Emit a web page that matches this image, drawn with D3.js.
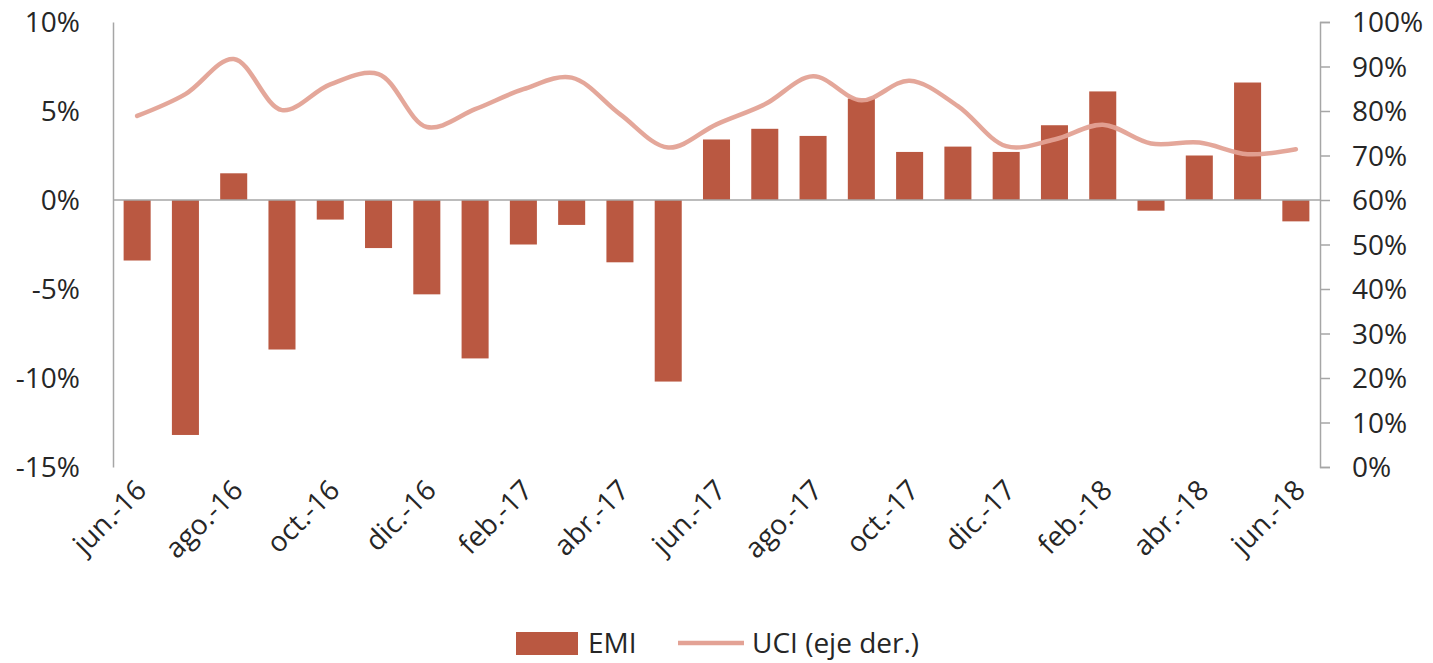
<!DOCTYPE html>
<html>
<head>
<meta charset="utf-8">
<script src="https://cdn.jsdelivr.net/npm/d3@7"></script>
<style>
  body { margin: 0; background: #fff; }
  text { font-family: "Open Sans", sans-serif; fill: #262626; }
</style>
</head>
<body>
<div id="chart"></div>
<script>
// months jun.-16 .. jun.-18
const months = ["jun.-16","jul.-16","ago.-16","sep.-16","oct.-16","nov.-16","dic.-16",
  "ene.-17","feb.-17","mar.-17","abr.-17","may.-17","jun.-17","jul.-17","ago.-17","sep.-17",
  "oct.-17","nov.-17","dic.-17","ene.-18","feb.-18","mar.-18","abr.-18","may.-18","jun.-18"];

// EMI, % (left axis)
const emi = [-3.4, -13.2, 1.5, -8.4, -1.1, -2.7, -5.3, -8.9, -2.5, -1.4, -3.5, -10.2,
  3.4, 4.0, 3.6, 5.7, 2.7, 3.0, 2.7, 4.2, 6.1, -0.6, 2.5, 6.6, -1.2];

// UCI, % (right axis)
const uci = [78.9, 83.8, 91.7, 80.2, 86.0, 88.3, 76.4, 80.4, 84.9, 87.5, 79.3, 71.8,
  77.0, 81.5, 87.8, 82.4, 86.8, 81.1, 72.1, 73.6, 76.9, 72.7, 72.9, 70.3, 71.4];

const leftTicks = [-15, -10, -5, 0, 5, 10];
const rightTicks = [0, 10, 20, 30, 40, 50, 60, 70, 80, 90, 100];

const width = 1433, height = 663;
const margin = { top: 22, right: 113, bottom: 196, left: 113 };

const svg = d3.select("#chart").append("svg")
  .attr("width", width)
  .attr("height", height);

const x = d3.scaleBand()
  .domain(months)
  .range([margin.left, width - margin.right])
  .paddingInner(0.44)
  .paddingOuter(0.22);

const yL = d3.scaleLinear().domain([-15, 10]).range([height - margin.bottom, margin.top]);
const yR = d3.scaleLinear().domain([0, 100]).range([height - margin.bottom, margin.top]);

// bars
svg.selectAll("rect.bar")
  .data(emi)
  .enter()
  .append("rect")
  .attr("class", "bar")
  .attr("x", (d, i) => x(months[i]))
  .attr("width", x.bandwidth())
  .attr("y", d => yL(Math.max(0, d)))
  .attr("height", d => Math.abs(yL(d) - yL(0)))
  .attr("fill", "#ba5841");

// zero line
svg.append("line")
  .attr("x1", margin.left).attr("x2", width - margin.right)
  .attr("y1", yL(0)).attr("y2", yL(0))
  .attr("stroke", "#a6a6a6").attr("stroke-width", 1.5);

// left axis
const gL = svg.append("g")
  .attr("transform", `translate(${margin.left},0)`)
  .call(d3.axisLeft(yL).tickValues(leftTicks).tickSize(0).tickPadding(33).tickFormat(d => d + "%"));
gL.select(".domain").attr("stroke", "#a6a6a6").attr("stroke-width", 1.5);
gL.selectAll("text").style("font-size", "28px").attr("dy", "0.35em");

// right axis
const gR = svg.append("g")
  .attr("transform", `translate(${width - margin.right},0)`)
  .call(d3.axisRight(yR).tickValues(rightTicks).tickSize(10).tickSizeOuter(10).tickPadding(22).tickFormat(d => d + "%"));
gR.select(".domain").attr("stroke", "#a6a6a6").attr("stroke-width", 1.5);
gR.selectAll(".tick line").attr("stroke", "#a6a6a6").attr("stroke-width", 1.5);
gR.selectAll("text").style("font-size", "28px").attr("dy", "0.35em");

// UCI line
const line = d3.line()
  .x((d, i) => x(months[i]) + x.bandwidth() / 2)
  .y(d => yR(d))
  .curve(d3.curveCatmullRom.alpha(0.5));

svg.append("path")
  .datum(uci)
  .attr("d", line)
  .attr("fill", "none")
  .attr("stroke", "#e3a295")
  .attr("stroke-width", 4.5)
  .attr("stroke-linecap", "round")
  .attr("opacity", 0.95);

// bottom category labels, every second month
const gX = svg.append("g")
  .attr("transform", `translate(0,${height - margin.bottom})`)
  .call(d3.axisBottom(x).tickValues(months.filter((m, i) => i % 2 === 0)).tickSize(0).tickPadding(0));
gX.select(".domain").remove();
gX.selectAll("text")
  .style("font-size", "28px")
  .attr("text-anchor", "end")
  .attr("dy", null)
  .attr("transform", "translate(11,25) rotate(-45)");

// legend
const legend = svg.append("g");
legend.append("rect")
  .attr("x", 516).attr("y", 632).attr("width", 62).attr("height", 23)
  .attr("fill", "#ba5841");
legend.append("text")
  .attr("x", 588).attr("y", 643).attr("dy", "0.35em")
  .style("font-size", "28px").text("EMI");
legend.append("line")
  .attr("x1", 678).attr("x2", 744).attr("y1", 643).attr("y2", 643)
  .attr("stroke", "#e3a295").attr("stroke-width", 4.5);
legend.append("text")
  .attr("x", 752).attr("y", 643).attr("dy", "0.35em")
  .style("font-size", "28px").text("UCI (eje der.)");
</script>
</body>
</html>
